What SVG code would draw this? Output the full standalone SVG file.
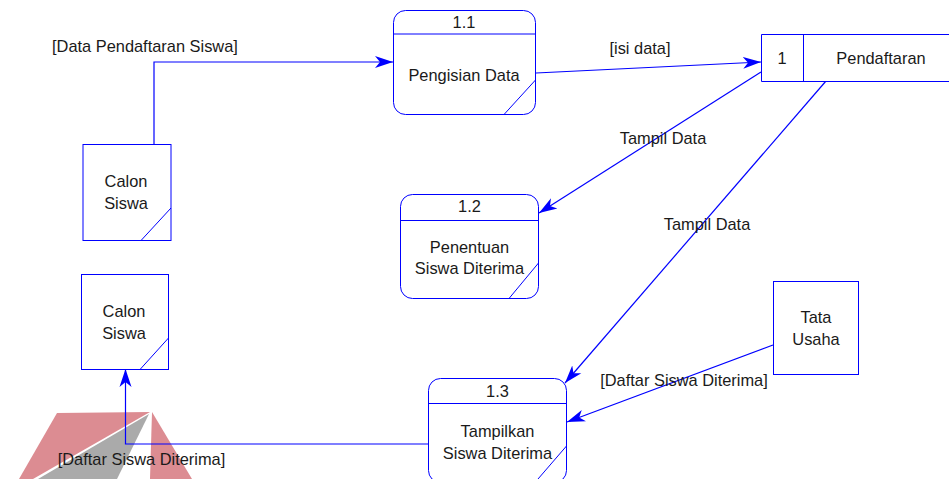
<svg xmlns="http://www.w3.org/2000/svg" width="949" height="479" viewBox="0 0 949 479">
<style>
  text { font-family: "Liberation Sans", Arial, sans-serif; font-size: 16.4px; fill: #1a1a1a; }
  .c { text-anchor: middle; }
  .box { fill: #ffffff; stroke: #0000ff; stroke-width: 1; }
  .ln { fill: none; stroke: #0000ff; stroke-width: 1; }
  .flow { fill: none; stroke: #0000ff; stroke-width: 1.2; marker-end: url(#arr); }
</style>
<defs>
  <marker id="arr" markerUnits="userSpaceOnUse" markerWidth="20" markerHeight="14" refX="18" refY="7" orient="auto">
    <path d="M0,1 L18,7 L0,13 L5,7 z" fill="#0000ff"/>
  </marker>
</defs>
<rect width="949" height="479" fill="#ffffff"/>
<g id="watermark">
  <polygon points="57,413 150,412 33,479 19,479" fill="#dc8c92"/>
  <polygon points="149,414 117,479 38,479" fill="#aaaaaa"/>
  <polygon points="152,412 192,479 150,479" fill="#dc8c92"/>
</g>
<g id="connectors">
  <polyline class="flow" points="154,144 154,62 393,62"/>
  <line class="flow" x1="536" y1="73" x2="761" y2="62"/>
  <line class="flow" x1="761" y1="72" x2="539" y2="213"/>
  <line class="flow" x1="826" y1="81" x2="565" y2="383"/>
  <line class="flow" x1="773" y1="345" x2="567" y2="422"/>
  <polyline class="flow" points="428,444 125.5,444 125.5,369"/>
  <text x="52" y="52">[Data Pendaftaran Siswa]</text>
  <text class="c" x="640" y="54">[isi data]</text>
  <text class="c" x="663" y="144">Tampil Data</text>
  <text class="c" x="707" y="230">Tampil Data</text>
  <text class="c" x="684" y="386">[Daftar Siswa Diterima]</text>
  <text class="c" x="141.5" y="465">[Daftar Siswa Diterima]</text>
</g>
<g id="p11">
  <rect class="box" x="393.5" y="10.5" width="142" height="104" rx="12"/>
  <line class="ln" x1="393.5" y1="34" x2="535.5" y2="34"/>
  <line class="ln" x1="504" y1="114.5" x2="535.5" y2="80"/>
  <text class="c" x="464" y="28">1.1</text>
  <text class="c" x="464" y="81">Pengisian Data</text>
</g>
<g id="store1">
  <rect x="761.5" y="34.5" width="188" height="47" fill="#ffffff"/>
  <polyline class="ln" points="949,34.5 761.5,34.5 761.5,81.5 949,81.5"/>
  <line class="ln" x1="803.5" y1="34.5" x2="803.5" y2="81.5"/>
  <text class="c" x="782" y="64">1</text>
  <text class="c" x="881" y="64">Pendaftaran</text>
</g>
<g id="calon1">
  <rect class="box" x="83" y="144.5" width="88" height="96"/>
  <line class="ln" x1="141" y1="240.5" x2="171" y2="208"/>
  <text class="c" x="126" y="187">Calon</text>
  <text class="c" x="126" y="209">Siswa</text>
</g>
<g id="p12">
  <rect class="box" x="400.5" y="194.5" width="138" height="104" rx="12"/>
  <line class="ln" x1="400.5" y1="220.5" x2="538.5" y2="220.5"/>
  <line class="ln" x1="509" y1="298.5" x2="538.5" y2="263"/>
  <text class="c" x="469.5" y="212">1.2</text>
  <text class="c" x="469.5" y="253">Penentuan</text>
  <text class="c" x="469.5" y="274">Siswa Diterima</text>
</g>
<g id="calon2">
  <rect class="box" x="81.5" y="274.5" width="87" height="95"/>
  <line class="ln" x1="140" y1="369.5" x2="168.5" y2="338"/>
  <text class="c" x="124" y="317">Calon</text>
  <text class="c" x="124" y="339">Siswa</text>
</g>
<g id="tatausaha">
  <rect class="box" x="773.5" y="281.5" width="85" height="93"/>
  <text class="c" x="816" y="323">Tata</text>
  <text class="c" x="816" y="345">Usaha</text>
</g>
<g id="p13">
  <rect class="box" x="428.5" y="378.5" width="138" height="104" rx="12"/>
  <line class="ln" x1="428.5" y1="403.5" x2="566.5" y2="403.5"/>
  <line class="ln" x1="538" y1="479" x2="566.5" y2="446"/>
  <text class="c" x="497.5" y="397">1.3</text>
  <text class="c" x="497.5" y="437">Tampilkan</text>
  <text class="c" x="497.5" y="459">Siswa Diterima</text>
</g>
</svg>
